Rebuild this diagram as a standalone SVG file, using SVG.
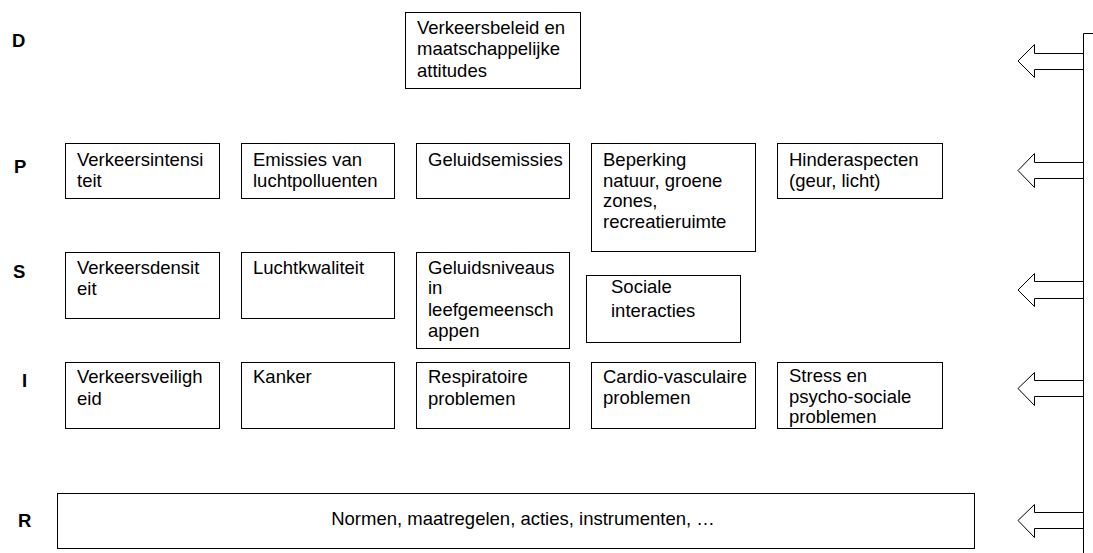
<svg xmlns="http://www.w3.org/2000/svg" width="1093" height="553" viewBox="0 0 1093 553">
<style>
.box{fill:#fff;stroke:#000;stroke-width:1}
.t{font-family:"Liberation Sans",Arial,sans-serif;font-size:18.5px;fill:#000}
.lbl{font-family:"Liberation Sans",Arial,sans-serif;font-size:18.5px;font-weight:bold;fill:#000}
.arr{fill:#fff;stroke:#000;stroke-width:1}
.ln{fill:none;stroke:#000;stroke-width:1}
</style>
<rect width="1093" height="553" fill="#fff"/>
<g id="labels">
<text class="lbl" x="12" y="47">D</text>
<text class="lbl" x="14" y="173">P</text>
<text class="lbl" x="13" y="278">S</text>
<text class="lbl" x="22" y="387">I</text>
<text class="lbl" x="18" y="527">R</text>
</g>
<g id="d1"><rect class="box" x="405.5" y="12.5" width="175" height="76"/>
<text class="t" x="417" y="34">Verkeersbeleid en</text><text class="t" x="417" y="55">maatschappelijke</text><text class="t" x="417" y="77">attitudes</text></g>
<g id="p1"><rect class="box" x="65.5" y="143.5" width="154" height="55"/>
<text class="t" x="77" y="166">Verkeersintensi</text><text class="t" x="77" y="187">teit</text></g>
<g id="p2"><rect class="box" x="241.5" y="143.5" width="153" height="55"/>
<text class="t" x="253" y="166">Emissies van</text><text class="t" x="253" y="187">luchtpolluenten</text></g>
<g id="p3"><rect class="box" x="416.5" y="143.5" width="153" height="55"/>
<text class="t" x="428" y="166">Geluidsemissies</text></g>
<g id="p4"><rect class="box" x="591.5" y="143.5" width="164" height="108"/>
<text class="t" x="603" y="166">Beperking</text><text class="t" x="603" y="187">natuur, groene</text><text class="t" x="603" y="207">zones,</text><text class="t" x="603" y="228">recreatieruimte</text></g>
<g id="p5"><rect class="box" x="777.5" y="143.5" width="165" height="55"/>
<text class="t" x="789" y="166">Hinderaspecten</text><text class="t" x="789" y="187">(geur, licht)</text></g>
<g id="s1"><rect class="box" x="65.5" y="252.5" width="154" height="66"/>
<text class="t" x="77" y="274">Verkeersdensit</text><text class="t" x="77" y="295">eit</text></g>
<g id="s2"><rect class="box" x="241.5" y="252.5" width="153" height="66"/>
<text class="t" x="253" y="274">Luchtkwaliteit</text></g>
<g id="s3"><rect class="box" x="416.5" y="252.5" width="153" height="96"/>
<text class="t" x="428" y="274">Geluidsniveaus</text><text class="t" x="428" y="294">in</text><text class="t" x="428" y="316">leefgemeensch</text><text class="t" x="428" y="337">appen</text></g>
<g id="s4"><rect class="box" x="586.5" y="275.5" width="154" height="67"/>
<text class="t" x="611" y="293">Sociale</text><text class="t" x="611" y="317">interacties</text></g>
<g id="i1"><rect class="box" x="65.5" y="362.5" width="154" height="66"/>
<text class="t" x="77" y="383">Verkeersveiligh</text><text class="t" x="77" y="405">eid</text></g>
<g id="i2"><rect class="box" x="241.5" y="362.5" width="153" height="66"/>
<text class="t" x="253" y="383">Kanker</text></g>
<g id="i3"><rect class="box" x="416.5" y="362.5" width="153" height="66"/>
<text class="t" x="428" y="383">Respiratoire</text><text class="t" x="428" y="405">problemen</text></g>
<g id="i4"><rect class="box" x="591.5" y="362.5" width="164" height="66"/>
<text class="t" x="603" y="383">Cardio-vasculaire</text><text class="t" x="603" y="404">problemen</text></g>
<g id="i5"><rect class="box" x="777.5" y="362.5" width="165" height="66"/>
<text class="t" x="789" y="382">Stress en</text><text class="t" x="789" y="403">psycho-sociale</text><text class="t" x="789" y="423">problemen</text></g>
<g id="r1"><rect class="box" x="57.5" y="493.5" width="917" height="55"/>
<text class="t" x="523" y="525" text-anchor="middle">Normen, maatregelen, acties, instrumenten, …</text></g>
<g id="connectors">
<path class="ln" d="M1083.5 33.5 H1093 M1083.5 33.5 V553"/>
<polygon class="arr" points="1083.5,53.5 1034.5,53.5 1034.5,44.5 1018,61 1034.5,77.5 1034.5,69.5 1083.5,69.5"/>
<polygon class="arr" points="1083.5,162.5 1034.5,162.5 1034.5,153.5 1018,170.5 1034.5,187.5 1034.5,178.5 1083.5,178.5"/>
<polygon class="arr" points="1083.5,281.5 1034.5,281.5 1034.5,273.5 1018,290 1034.5,306.5 1034.5,298.5 1083.5,298.5"/>
<polygon class="arr" points="1083.5,380.5 1034.5,380.5 1034.5,372.5 1018,388.5 1034.5,405.5 1034.5,396.5 1083.5,396.5"/>
<polygon class="arr" points="1083.5,512.5 1034.5,512.5 1034.5,504.5 1018,520.5 1034.5,537.5 1034.5,528.5 1083.5,528.5"/>
</g>
</svg>
